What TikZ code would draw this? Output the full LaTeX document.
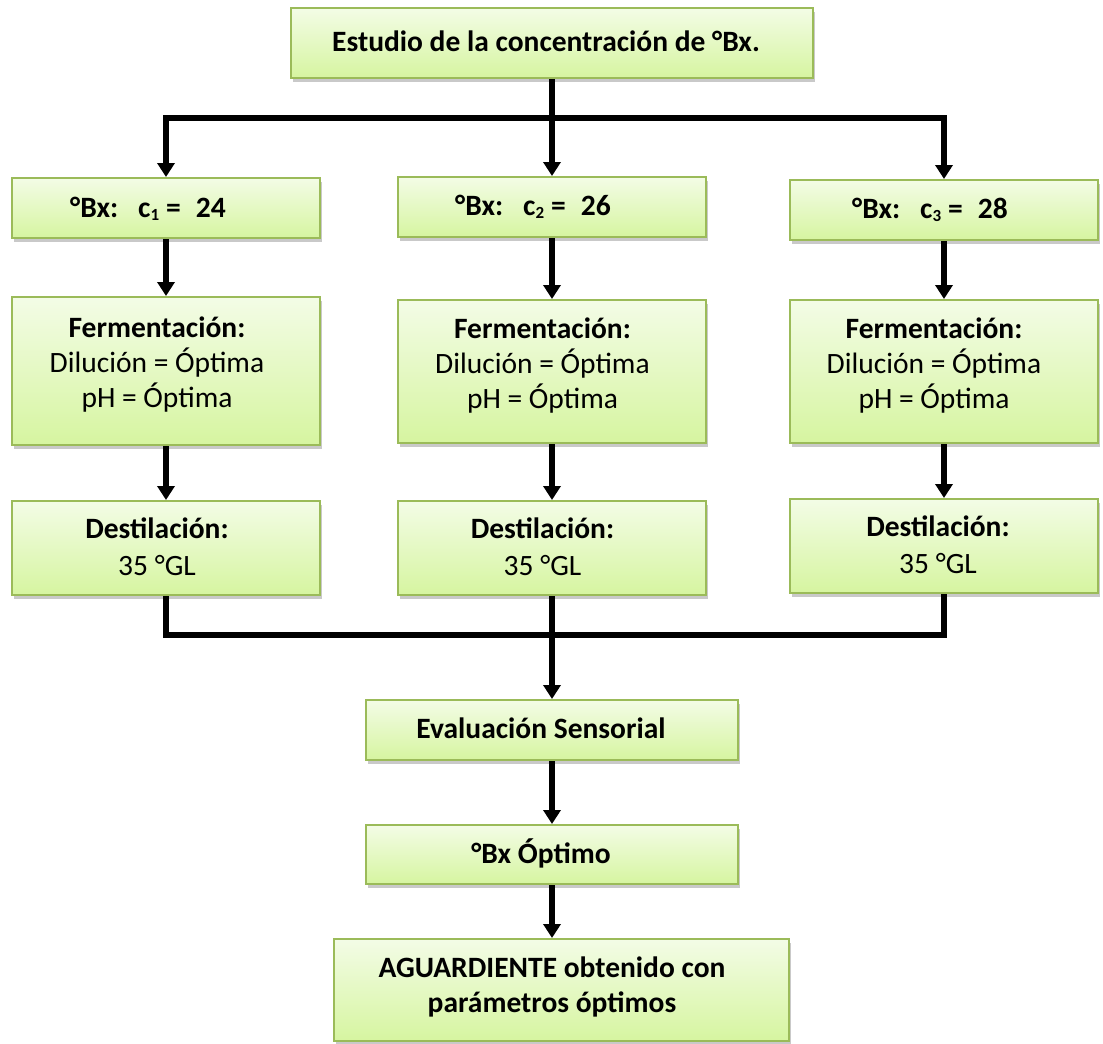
\documentclass[tikz,border=0pt]{standalone}
\usepackage{fontspec}
\setmainfont{Carlito}
\usetikzlibrary{arrows.meta,shadows}
\definecolor{bordergreen}{HTML}{9BBB59}
\definecolor{topgreen}{HTML}{F3FCE6}
\definecolor{botgreen}{HTML}{D6F5A0}
\begin{document}
\begin{tikzpicture}[x=1pt,y=-1pt,
  box/.style={draw=bordergreen, line width=2pt, top color=topgreen, bottom color=botgreen,
    inner sep=0pt, drop shadow={shadow xshift=2pt, shadow yshift=-4pt, opacity=0.3, fill=black!70}},
  txt/.style={anchor=base, inner sep=0pt, align=center, font=\fontsize{29.5pt}{35pt}\selectfont},
  conn/.style={line width=5.5pt, draw=black},
  arr/.style={conn, -{Triangle[width=17pt,length=14pt]}}]
\useasboundingbox (0,0) rectangle (1103,1044);

% boxes
\node[box, minimum width=522pt, minimum height=70pt] (top) at (552,43) {};
\node[box, minimum width=308pt, minimum height=60pt] (L1) at (166,208) {};
\node[box, minimum width=308pt, minimum height=60pt] (M1) at (552,207) {};
\node[box, minimum width=308pt, minimum height=60pt] (R1) at (944,210) {};
\node[box, minimum width=308pt, minimum height=148pt] (L2) at (166,371) {};
\node[box, minimum width=308pt, minimum height=143pt] (M2) at (552,371.5) {};
\node[box, minimum width=308pt, minimum height=143pt] (R2) at (944,371.5) {};
\node[box, minimum width=308pt, minimum height=94pt] (L3) at (166,548) {};
\node[box, minimum width=308pt, minimum height=94pt] (M3) at (552,548) {};
\node[box, minimum width=308pt, minimum height=94pt] (R3) at (944,546) {};
\node[box, minimum width=372pt, minimum height=60pt] (E) at (552,730) {};
\node[box, minimum width=372pt, minimum height=59pt] (O) at (552,854.5) {};
\node[box, minimum width=455pt, minimum height=102pt] (F) at (561.5,990) {};

% texts (base = baseline of the last line)
\node[txt] (tTop) at (546,51) {\bfseries Estudio de la concentración de °Bx.};
\node[txt] (tL1) at (148,217) {\bfseries °Bx:\hspace{20pt}c{\fontsize{17pt}{17pt}\selectfont\raisebox{-3pt}{1}}\hspace{7pt}=\hspace{15pt}24};
\node[txt] (tM1) at (533,215) {\bfseries °Bx:\hspace{20pt}c{\fontsize{17pt}{17pt}\selectfont\raisebox{-3pt}{2}}\hspace{7pt}=\hspace{15pt}26};
\node[txt] (tR1) at (930,218) {\bfseries °Bx:\hspace{20pt}c{\fontsize{17pt}{17pt}\selectfont\raisebox{-3pt}{3}}\hspace{7pt}=\hspace{15pt}28};
\node[txt] (tL2) at (157,407) {\textbf{Fermentación:}\\Dilución = Óptima\\pH = Óptima};
\node[txt] (tM2) at (542.5,408) {\textbf{Fermentación:}\\Dilución = Óptima\\pH = Óptima};
\node[txt] (tR2) at (934,408) {\textbf{Fermentación:}\\Dilución = Óptima\\pH = Óptima};
\node[txt, font=\fontsize{29.5pt}{37pt}\selectfont] (tL3) at (157,575) {\textbf{Destilación:}\\35 °GL};
\node[txt, font=\fontsize{29.5pt}{37pt}\selectfont] (tM3) at (542.5,575) {\textbf{Destilación:}\\35 °GL};
\node[txt, font=\fontsize{29.5pt}{37pt}\selectfont] (tR3) at (938,573) {\textbf{Destilación:}\\35 °GL};
\node[txt] (tE) at (541,738) {\bfseries Evaluación Sensorial};
\node[txt] (tO) at (541,863) {\bfseries °Bx Óptimo};
\node[txt] (tF) at (552,1012) {\bfseries AGUARDIENTE obtenido con\\\bfseries parámetros óptimos};

% connectors
\coordinate (b1) at (552,118);
\coordinate (b2) at (552,635);
\draw[conn] (top.south) -- (b1);
\draw[arr] (b1) -| (L1.north);
\draw[arr] (b1) -| (R1.north);
\draw[arr] (b1) -- (M1.north);
\draw[arr] (L1.south) -- (L2.north);
\draw[arr] (M1.south) -- (M2.north);
\draw[arr] (R1.south) -- (R2.north);
\draw[arr] (L2.south) -- (L3.north);
\draw[arr] (M2.south) -- (M3.north);
\draw[arr] (R2.south) -- (R3.north);
\draw[conn] (L3.south) |- (b2) -| (R3.south);
\draw[arr] (M3.south) -- (E.north);
\draw[arr] (E.south) -- (O.north);
\draw[arr] (O.south) -- (O.south |- F.north);
\end{tikzpicture}
\end{document}
